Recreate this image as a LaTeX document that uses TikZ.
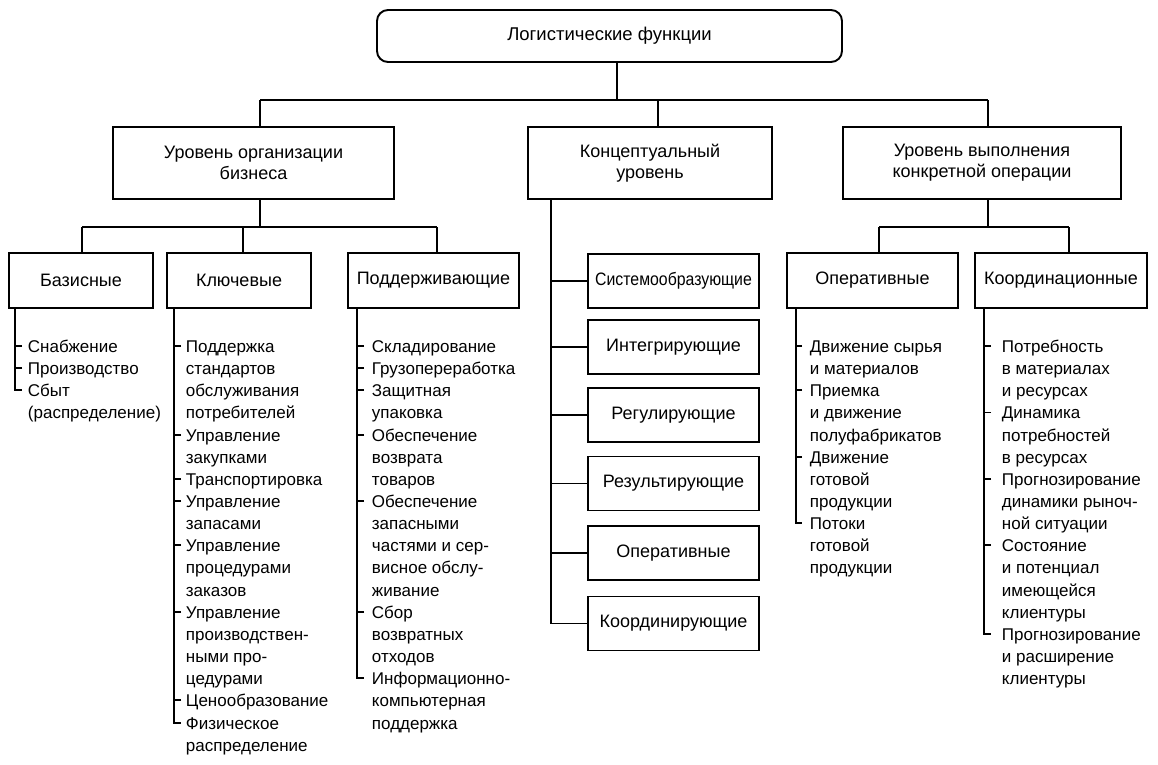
\documentclass[tikz,border=0pt]{standalone}
\usepackage{fontspec}
\setmainfont{Liberation Sans}
\newfontfamily\condfont[FakeStretch=0.88]{Liberation Sans}
\usetikzlibrary{calc}
\newcommand\myitem[5]{%
  \node[item=#4] (#1) at (#2,{336+22.15*#3}) {\strut #5};
  \coordinate (#1t) at ([yshift=-10pt]#1.north west);}
\begin{document}
\begin{tikzpicture}[x=1pt,y=-1pt,line width=1.9pt,
  box/.style={draw,inner sep=0pt,align=center,font=\fontsize{18}{21}\selectfont},
  item/.style={anchor=north west,inner ysep=0pt,inner xsep=#1,align=left,font=\fontsize{17}{22.15}\selectfont}]
\fill[white] (0,0) rectangle (1158,764);
\useasboundingbox (0,0) rectangle (1158,764);

% top
\node[box,rounded corners=11pt,minimum width=465pt,minimum height=52pt,font=\fontsize{18.5}{21}\selectfont] (top) at (609.5,36) {Логистические функции};

% level 2
\node[box,minimum width=281pt,minimum height=72pt] (A) at (253.5,163) {Уровень организации\\бизнеса};
\node[box,minimum width=244pt,minimum height=72pt] (B) at (650,163) {Концептуальный\\уровень};
\node[box,minimum width=278pt,minimum height=72pt] (C) at (982,163) {Уровень выполнения\\конкретной операции};

% level 3
\node[box,minimum width=144pt,minimum height=55pt] (bz) at (81,280.5) {Базисные};
\node[box,minimum width=144pt,minimum height=55pt] (kl) at (239,280.5) {Ключевые};
\node[box,minimum width=171pt,minimum height=55pt] (sp) at (433.5,280.5) {Поддерживающие};
\node[box,minimum width=171pt,minimum height=55pt] (op) at (872.5,280.5) {Оперативные};
\node[box,minimum width=172pt,minimum height=55pt] (co) at (1061,280.5) {Координационные};

% concept boxes
\node[box,minimum width=171pt,minimum height=54pt,font=\condfont\fontsize{18}{21}\selectfont] (q1) at (673.5,281) {Системообразующие};
\node[box,minimum width=171pt,minimum height=54pt] (q2) at (673.5,347) {Интегрирующие};
\node[box,minimum width=171pt,minimum height=54pt] (q3) at (673.5,415) {Регулирующие};
\node[box,minimum width=171pt,minimum height=54pt] (q4) at (673.5,483.5) {Результирующие};
\node[box,minimum width=171pt,minimum height=54pt] (q5) at (673.5,553) {Оперативные};
\node[box,minimum width=171pt,minimum height=54pt] (q6) at (673.5,623.5) {Координирующие};

% connectors top
\coordinate (j0) at (617,100);
\coordinate (hA) at (260,100);
\coordinate (hB) at (658,100);
\coordinate (hC) at (988,100);
\draw (top.south -| j0) -- (j0);
\draw (hA) -- (hC);
\draw (hA) -- (hA |- A.north);
\draw (hB) -- (hB |- B.north);
\draw (hC) -- (hC |- C.north);

% A branch
\coordinate (aJ) at (260,227);
\coordinate (aL) at (82,227);
\coordinate (aM) at (243,227);
\coordinate (aR) at (437,227);
\draw (A.south -| aJ) -- (aJ);
\draw (aL) -- (aR);
\draw (aL) -- (aL |- bz.north);
\draw (aM) -- (aM |- kl.north);
\draw (aR) -- (aR |- sp.north);

% C branch
\coordinate (cJ) at (988,227);
\coordinate (cL) at (879,227);
\coordinate (cR) at (1069,227);
\draw (C.south -| cJ) -- (cJ);
\draw (cL) -- (cR);
\draw (cL) -- (cL |- op.north);
\draw (cR) -- (cR |- co.north);

% B branch
\coordinate (bT) at (551,199);
\draw (B.south -| bT) |- (q6.west);
\foreach \q in {q1,q2,q3,q4,q5}{\draw (\q.west) -- (\q.west -| bT);}

% lists
\myitem{b1}{22}{0}{5pt}{Снабжение}
\myitem{b2}{22}{1}{5pt}{Производство}
\myitem{b3}{22}{2}{5pt}{Сбыт\\(распределение)}

\myitem{k1}{181}{0}{4pt}{Поддержка\\стандартов\\обслуживания\\потребителей}
\myitem{k2}{181}{4}{4pt}{Управление\\закупками}
\myitem{k3}{181}{6}{4pt}{Транспортировка}
\myitem{k4}{181}{7}{4pt}{Управление\\запасами}
\myitem{k5}{181}{9}{4pt}{Управление\\процедурами\\заказов}
\myitem{k6}{181}{12}{4pt}{Управление\\производствен-\\ными про-\\цедурами}
\myitem{k7}{181}{16}{4pt}{Ценообразование}
\myitem{k8}{181}{17}{4pt}{Физическое\\распределение}

\myitem{s1}{364}{0}{7pt}{Складирование}
\myitem{s2}{364}{1}{7pt}{Грузопереработка}
\myitem{s3}{364}{2}{7pt}{Защитная\\упаковка}
\myitem{s4}{364}{4}{7pt}{Обеспечение\\возврата\\товаров}
\myitem{s5}{364}{7}{7pt}{Обеспечение\\запасными\\частями и сер-\\висное обслу-\\живание}
\myitem{s6}{364}{12}{7pt}{Сбор\\возвратных\\отходов}
\myitem{s7}{364}{15}{7pt}{Информационно-\\компьютерная\\поддержка}

\myitem{o1}{802}{0}{7pt}{Движение сырья\\и материалов}
\myitem{o2}{802}{2}{7pt}{Приемка\\и движение\\полуфабрикатов}
\myitem{o3}{802}{5}{7pt}{Движение\\готовой\\продукции}
\myitem{o4}{802}{8}{7pt}{Потоки\\готовой\\продукции}

\myitem{c1}{991}{0}{10pt}{Потребность\\в материалах\\и ресурсах}
\myitem{c2}{991}{3}{10pt}{Динамика\\потребностей\\в ресурсах}
\myitem{c3}{991}{6}{10pt}{Прогнозирование\\динамики рыноч-\\ной ситуации}
\myitem{c4}{991}{9}{10pt}{Состояние\\и потенциал\\имеющейся\\клиентуры}
\myitem{c5}{991}{13}{10pt}{Прогнозирование\\и расширение\\клиентуры}

% trunks
\coordinate (bzT) at (15,308);
\coordinate (klT) at (174,308);
\coordinate (spT) at (357,308);
\coordinate (opT) at (796,308);
\coordinate (coT) at (984,308);
\draw (bz.south -| bzT) |- (b3t);
\foreach \i in {b1,b2}{\draw (\i t) -- (\i t -| bzT);}
\draw (kl.south -| klT) |- (k8t);
\foreach \i in {k1,k2,k3,k4,k5,k6,k7}{\draw (\i t) -- (\i t -| klT);}
\draw (sp.south -| spT) |- (s7t);
\foreach \i in {s1,s2,s3,s4,s5,s6}{\draw (\i t) -- (\i t -| spT);}
\draw (op.south -| opT) |- (o4t);
\foreach \i in {o1,o2,o3}{\draw (\i t) -- (\i t -| opT);}
\draw (co.south -| coT) |- (c5t);
\foreach \i in {c1,c2,c3,c4}{\draw (\i t) -- (\i t -| coT);}
\end{tikzpicture}
\end{document}
